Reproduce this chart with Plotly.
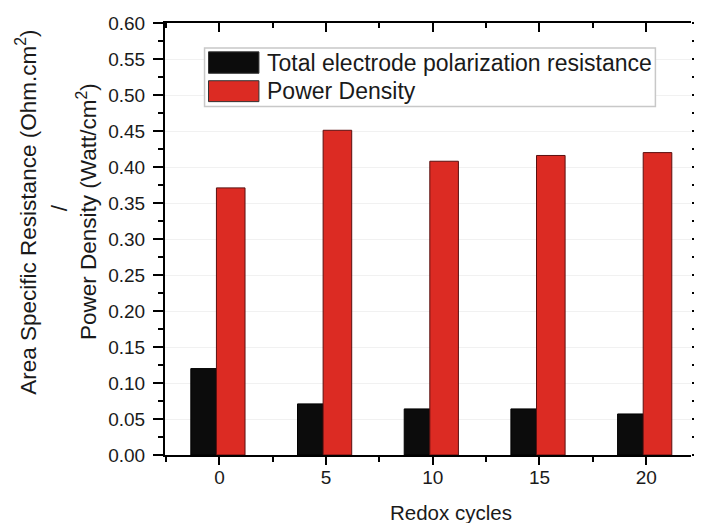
import plotly.graph_objects as go

cycles = [0, 5, 10, 15, 20]
resistance = [0.120, 0.071, 0.064, 0.064, 0.057]
power_density = [0.371, 0.451, 0.408, 0.416, 0.420]
series_names = ["Total electrode polarization resistance", "Power Density"]
colors = ["#0c0c0c", "#dc2b23"]
y_ticks = [0.00, 0.05, 0.10, 0.15, 0.20, 0.25, 0.30, 0.35, 0.40, 0.45, 0.50, 0.55, 0.60]

FONT = "Liberation Sans, Arial, sans-serif"
OFF = 8  # default page body margin
W, H = 702 - OFF, 523 - OFF
L, T = 165 - OFF, 21 - OFF
PLOT_R, PLOT_B = 697 - OFF, 455 - OFF
R, B = W - PLOT_R, H - PLOT_B
PW, PH = PLOT_R - L, PLOT_B - T

def px(x):
    return (x - OFF - L) / PW

def py(y):
    return (PLOT_B - (y - OFF)) / PH

fig = go.Figure()
fig.add_trace(go.Bar(x=cycles, y=resistance, name=series_names[0], offset=-1.34, width=1.2,
                     marker=dict(color=colors[0], line=dict(color="#000000", width=1)),
                     showlegend=False))
fig.add_trace(go.Bar(x=cycles, y=power_density, name=series_names[1], offset=-0.14, width=1.34,
                     marker=dict(color=colors[1], line=dict(color="#5a1010", width=1)),
                     showlegend=False))

xr = [-2.55, 22.1]
yr = [0, 0.6]
fig.update_layout(
    width=W, height=H,
    margin=dict(l=L, r=R, t=T, b=B),
    paper_bgcolor="white", plot_bgcolor="white",
    font=dict(family=FONT, color="#1a1a1a"),
    barmode="overlay",
    xaxis=dict(range=xr, tickvals=cycles, ticktext=[str(c) for c in cycles],
               ticks="outside", ticklen=8, tickwidth=2, tickcolor="black",
               showline=True, linewidth=2, linecolor="black", showgrid=False, zeroline=False,
               tickfont=dict(size=19, family=FONT, color="#1a1a1a"), ticklabelstandoff=-4,
               minor=dict(ticks="outside", ticklen=5, tickwidth=2, tickcolor="black",
                          dtick=2.5, tick0=0, showgrid=False)),
    xaxis2=dict(range=xr, overlaying="x", side="top", anchor="y", tickvals=cycles,
                ticks="inside", ticklen=9, tickwidth=2, tickcolor="black",
                showline=True, linewidth=2, linecolor="black", showgrid=False, zeroline=False,
                showticklabels=False,
                minor=dict(ticks="inside", ticklen=5, tickwidth=2, tickcolor="black",
                           dtick=2.5, tick0=0, showgrid=False)),
    yaxis=dict(range=yr, tickvals=y_ticks, ticktext=[f"{v:.2f}" for v in y_ticks],
               ticks="outside", ticklen=10, tickwidth=2, tickcolor="black",
               showline=True, linewidth=2, linecolor="black",
               showgrid=True, gridcolor="#f1f1f1", gridwidth=1, zeroline=False,
               tickfont=dict(size=19, family=FONT, color="#1a1a1a"), ticklabelstandoff=4,
               minor=dict(ticks="outside", ticklen=5, tickwidth=2, tickcolor="black",
                          dtick=0.025, tick0=0, showgrid=False)),
    yaxis2=dict(range=yr, overlaying="y", side="right", anchor="x", tickvals=y_ticks,
                ticks="outside", ticklen=6, tickwidth=2, tickcolor="black",
                showline=False, showgrid=False, zeroline=False, showticklabels=False,
                minor=dict(ticks="outside", ticklen=3, tickwidth=2, tickcolor="black",
                           dtick=0.025, tick0=0, showgrid=False)),
)

# invisible trace to activate the mirror axes
fig.add_trace(go.Scatter(x=[cycles[0]], y=[0], xaxis="x2", yaxis="y2", mode="markers",
                         marker=dict(opacity=0), showlegend=False, hoverinfo="skip"))

# custom legend (large swatches as in the reference)
fig.add_shape(type="rect", xref="paper", yref="paper", x0=px(205), x1=px(661), y0=py(105), y1=py(46),
              line=dict(color="#c8c8c8", width=1.5), fillcolor="white", layer="above")
rows = [(50, 71.5, 61), (79, 100, 89)]
for (top, bot, mid), name, col in zip(rows, series_names, colors):
    fig.add_shape(type="rect", xref="paper", yref="paper", x0=px(209), x1=px(260), y0=py(bot), y1=py(top),
                  line=dict(color="#333333", width=1), fillcolor=col, layer="above")
    fig.add_annotation(text=name, xref="paper", yref="paper", x=px(266), y=py(mid),
                       xanchor="left", yanchor="middle", showarrow=False,
                       font=dict(size=23, family=FONT, color="#1a1a1a"))

# axis titles
fig.add_annotation(text="Redox cycles", xref="paper", yref="paper", x=px(454), y=py(513),
                   xanchor="center", yanchor="middle", showarrow=False,
                   font=dict(size=20.5, family=FONT, color="#1a1a1a"))
ytitles = [("Area Specific Resistance (Ohm.cm<sup>2</sup>)", 25, 211),
           ("/", 58, 207),
           ("Power Density (Watt/cm<sup>2</sup>)", 86, 210)]
for txt, x, y in ytitles:
    fig.add_annotation(text=txt, xref="paper", yref="paper", x=px(x), y=py(y),
                       xanchor="center", yanchor="middle", textangle=-90, showarrow=False,
                       font=dict(size=22.5, family=FONT, color="#1a1a1a"))

fig.write_html("out.html")
